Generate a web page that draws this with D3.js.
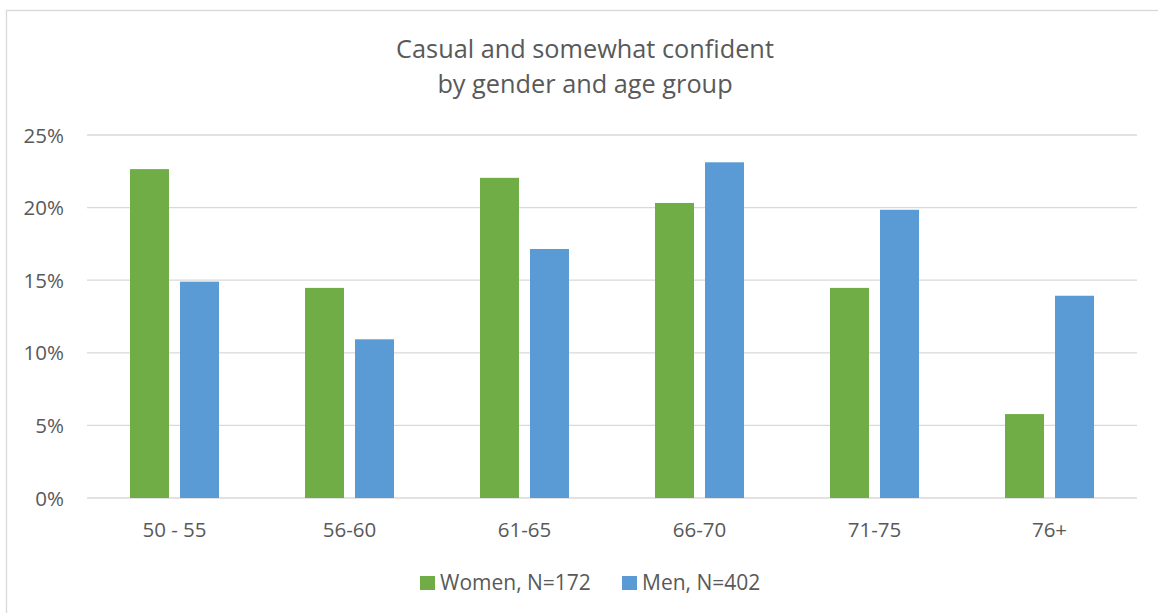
<!DOCTYPE html>
<html>
<head>
<meta charset="utf-8">
<script src="https://cdn.jsdelivr.net/npm/d3@7"></script>
<style>
  body { margin: 0; background: #fff; }
  text { font-family: "Open Sans", sans-serif; fill: #595959; }
</style>
</head>
<body>
<div class="container"></div>
<script>
// data
var categories = ["50 - 55", "56-60", "61-65", "66-70", "71-75", "76+"];
var seriesNames = ["Women, N=172", "Men, N=402"];
var women = [22.65, 14.47, 22.05, 20.32, 14.47, 5.78];
var men = [14.9, 10.93, 17.15, 23.12, 19.85, 13.93];
var yTicks = [0, 5, 10, 15, 20, 25];
var colors = ["#70AD47", "#5B9BD5"];

var W = 1158, H = 613;
var plot = {left: 87, right: 1137, top: 135, bottom: 498};

var svg = d3.select(".container").append("svg")
  .attr("width", W).attr("height", H);

// chart border
svg.append("rect")
  .attr("x", 6.5).attr("y", 10.5)
  .attr("width", 1170).attr("height", 620)
  .attr("fill", "none").attr("stroke", "#d9d9d9").attr("stroke-width", 1.3);

// title
var title = svg.append("text")
  .attr("x", 585).attr("text-anchor", "middle")
  .style("font-size", "25.3px");
title.append("tspan").attr("x", 585).attr("y", 58).text("Casual and somewhat confident");
title.append("tspan").attr("x", 585).attr("y", 93).text("by gender and age group");

var x = d3.scaleBand().domain(categories).range([plot.left, plot.right]);
var y = d3.scaleLinear().domain([0, 25]).range([plot.bottom, plot.top]);

// gridlines
svg.append("g").selectAll("line").data(yTicks).enter().append("line")
  .attr("x1", plot.left).attr("x2", plot.right)
  .attr("y1", function(d) { return y(d); })
  .attr("y2", function(d) { return y(d); })
  .attr("stroke", "#d9d9d9").attr("stroke-width", 1.3);

// y labels
svg.append("g").selectAll("text").data(yTicks).enter().append("text")
  .attr("x", 64).attr("text-anchor", "end")
  .attr("y", function(d) { return y(d) + 7.5; })
  .style("font-size", "20.5px")
  .text(function(d) { return d + "%"; });

// bars
var barW = 39, gap = 11;
var series = [women, men];
series.forEach(function(vals, s) {
  svg.append("g").selectAll("rect").data(vals).enter().append("rect")
    .attr("x", function(d, i) {
      var c = x(categories[i]) + x.bandwidth() / 2;
      return s === 0 ? c - gap / 2 - barW : c + gap / 2;
    })
    .attr("y", function(d) { return y(d); })
    .attr("width", barW)
    .attr("height", function(d) { return y(0) - y(d); })
    .attr("fill", colors[s]);
});

// x labels
svg.append("g").selectAll("text").data(categories).enter().append("text")
  .attr("x", function(d) { return x(d) + x.bandwidth() / 2; })
  .attr("y", 537).attr("text-anchor", "middle")
  .style("font-size", "20.5px")
  .text(function(d) { return d; });

// legend
var legendX = [420, 622];
seriesNames.forEach(function(n, i) {
  svg.append("rect").attr("x", legendX[i]).attr("y", 576)
    .attr("width", 15).attr("height", 14).attr("fill", colors[i]);
  svg.append("text").attr("x", legendX[i] + 20).attr("y", 590)
    .style("font-size", "21px").text(n);
});
</script>
</body>
</html>
